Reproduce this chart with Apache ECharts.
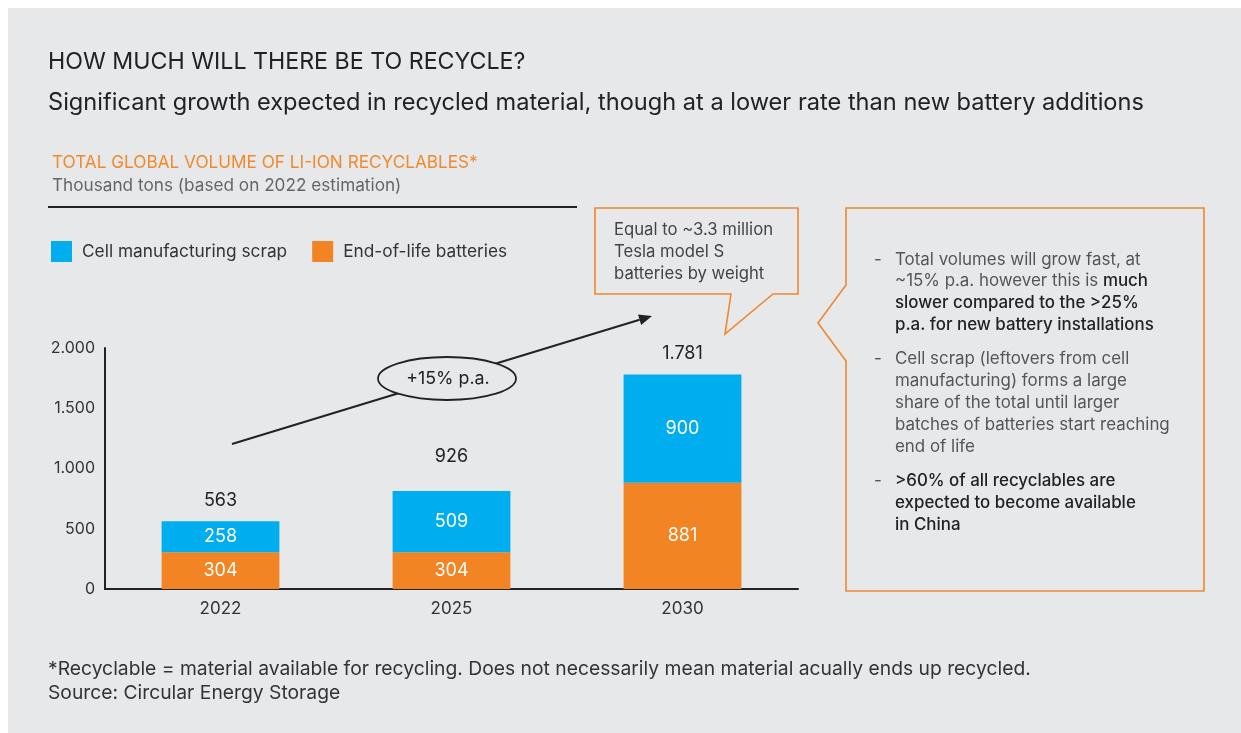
<!DOCTYPE html>
<html>
<head>
<meta charset="utf-8">
<script src="https://cdn.jsdelivr.net/npm/echarts@6/dist/echarts.min.js"></script>
<style>
  html, body { margin: 0; padding: 0; background: #ffffff; }
  #panel { position: absolute; left: 8px; top: 8px; right: 0; bottom: 0; background: #e7e8ea; }
  #chart { position: absolute; left: 0; top: 0; width: 1241px; height: 733px; }
</style>
</head>
<body>
<div id="panel"></div>
<div id="chart"></div>
<script>
// Years on the x axis
const years = ['2022', '2025', '2030'];
// Thousand tons per segment, as printed on each segment
const scrapValues = [258, 509, 900];       // cell manufacturing scrap
const endOfLifeValues = [304, 304, 881];   // end-of-life batteries
// Stated total per year
const totalValues = [563, 926, 1781];
// Y axis ticks
const yTicks = [0, 500, 1000, 1500, 2000];

const seriesNames = ['Cell manufacturing scrap', 'End-of-life batteries'];

const titleText = 'HOW MUCH WILL THERE BE TO RECYCLE?';
const subtitleText = 'Significant growth expected in recycled material, though at a lower rate than new battery additions';
const chartHeading = 'TOTAL GLOBAL VOLUME OF LI-ION RECYCLABLES*';
const unitText = 'Thousand tons (based on 2022 estimation)';
const growthText = '+15% p.a.';
const calloutLines = ['Equal to ~3.3 million', 'Tesla model S', 'batteries by weight'];
// Side notes: each line is a list of [text, strong?] runs
const noteLines = [
  { bullet: true,  runs: [['Total volumes will grow fast, at', false]] },
  { bullet: false, runs: [['~15% p.a. however this is ', false], ['much', true]] },
  { bullet: false, runs: [['slower compared to the >25%', true]] },
  { bullet: false, runs: [['p.a. for new battery installations', true]] },
  { bullet: true,  runs: [['Cell scrap (leftovers from cell', false]] },
  { bullet: false, runs: [['manufacturing) forms a large', false]] },
  { bullet: false, runs: [['share of the total until larger', false]] },
  { bullet: false, runs: [['batches of batteries start reaching', false]] },
  { bullet: false, runs: [['end of life', false]] },
  { bullet: true,  runs: [['>60% of all recyclables are', true]] },
  { bullet: false, runs: [['expected to become available', true]] },
  { bullet: false, runs: [['in China', true]] }
];
const noteLineY = [260, 281, 303, 325, 359, 381, 403, 425, 447, 481, 503, 525];
const footnotes = [
  '*Recyclable = material available for recycling. Does not necessarily mean material acually ends up recycled.',
  'Source: Circular Energy Storage'
];

const FONT = 'Inter, Roboto, "Noto Sans", sans-serif';
const BG = '#e7e8ea';
const BLUE = '#00aeef';
const ORANGE = '#f28423';
const OUTLINE = '#f0862e';
const INK = '#222222';

function fmt(n) {
  return String(n).replace(/\B(?=(\d{3})+(?!\d))/g, '.');
}

function txt(x, y, text, size, color, extra) {
  return {
    type: 'text', x: x, y: y, z: 20,
    style: Object.assign({
      text: text, font: size + 'px ' + FONT, fill: color,
      textVerticalAlign: 'middle', textAlign: 'left'
    }, extra || {})
  };
}

const chart = echarts.init(document.getElementById('chart'), null, { renderer: 'canvas' });

function buildGraphics() {
  const g = [];
  // Header texts
  g.push(txt(48, 62, titleText, 23.2, INK));
  g.push(txt(48, 103, subtitleText, 23.6, INK));
  g.push(txt(52, 163, chartHeading, 17.2, '#f08a2c'));
  g.push(txt(52, 186, unitText, 17.2, '#666666'));
  g.push({ type: 'line', z: 20, shape: { x1: 48, y1: 207, x2: 577, y2: 207 },
           style: { stroke: INK, lineWidth: 2 } });

  // Growth arrow
  const p0 = [232, 444], p1 = [652, 316];
  const dx = p1[0] - p0[0], dy = p1[1] - p0[1];
  const len = Math.hypot(dx, dy), ux = dx / len, uy = dy / len;
  const headL = 13, headW = 5.5;
  const bx = p1[0] - ux * headL, by = p1[1] - uy * headL;
  g.push({ type: 'line', z: 10, shape: { x1: p0[0], y1: p0[1], x2: bx, y2: by },
           style: { stroke: INK, lineWidth: 2 } });
  g.push({ type: 'polygon', z: 10,
           shape: { points: [p1, [bx - uy * headW, by + ux * headW], [bx + uy * headW, by - ux * headW]] },
           style: { fill: INK } });
  g.push({ type: 'ellipse', z: 11, shape: { cx: 447, cy: 378.5, rx: 69, ry: 21.5 },
           style: { fill: BG, stroke: INK, lineWidth: 1.8 } });
  g.push(txt(448, 379, growthText, 17.8, INK, { textAlign: 'center' }));

  // Speech-bubble callout
  g.push({ type: 'polygon', z: 10,
           shape: { points: [[595, 208], [798, 208], [798, 294], [773, 294], [725, 334], [731, 294], [595, 294]] },
           style: { fill: BG, stroke: OUTLINE, lineWidth: 1.6 } });
  calloutLines.forEach(function (s, i) {
    g.push(txt(614, 230 + i * 22, s, 16.7, '#444444'));
  });

  // Side notes box
  g.push({ type: 'polygon', z: 10,
           shape: { points: [[846, 208], [1204, 208], [1204, 591], [846, 591], [846, 361], [818, 323], [846, 285]] },
           style: { fill: BG, stroke: OUTLINE, lineWidth: 1.6 } });
  noteLines.forEach(function (line, i) {
    const y = noteLineY[i];
    if (line.bullet) g.push(txt(874, y, '-', 17, '#555555'));
    const text = line.runs.map(function (r) { return '{' + (r[1] ? 'b' : 'n') + '|' + r[0] + '}'; }).join('');
    g.push({
      type: 'text', x: 895, y: y, z: 20,
      style: {
        text: text, textVerticalAlign: 'middle',
        rich: {
          n: { font: '16.9px ' + FONT, fill: '#555555' },
          b: { font: '500 16.9px ' + FONT, fill: '#222222' }
        }
      }
    });
  });

  // Footnotes
  footnotes.forEach(function (s, i) {
    g.push(txt(48, 669 + i * 24, s, 19.3, '#333333'));
  });
  return g;
}

const option = {
  backgroundColor: 'transparent',
  animation: false,
  textStyle: { fontFamily: FONT },
  legend: {
    data: seriesNames,
    left: 51, top: 241, padding: 0,
    icon: 'rect', itemWidth: 21, itemHeight: 21, itemGap: 25,
    selectedMode: false,
    textStyle: { fontSize: 17.3, color: '#333333', padding: [0, 0, 0, 5] }
  },
  grid: { left: 105, right: 443, top: 348, bottom: 144, containLabel: false },
  xAxis: {
    type: 'category', data: years,
    axisLine: { lineStyle: { color: INK, width: 2 } },
    axisTick: { show: false },
    axisLabel: { color: '#333333', fontSize: 17, margin: 11 }
  },
  yAxis: {
    type: 'value', min: yTicks[0], max: yTicks[yTicks.length - 1], interval: yTicks[1] - yTicks[0],
    axisLine: { show: true, lineStyle: { color: INK, width: 2 } },
    axisTick: { show: false },
    splitLine: { show: false },
    axisLabel: { color: '#333333', fontSize: 16, margin: 10, formatter: fmt }
  },
  series: [
    {
      name: seriesNames[1], type: 'bar', stack: 'total', data: endOfLifeValues,
      barWidth: '51%', itemStyle: { color: ORANGE },
      label: { show: true, position: 'inside', color: '#ffffff', fontSize: 18, formatter: function (p) { return fmt(p.value); } }
    },
    {
      name: seriesNames[0], type: 'bar', stack: 'total', data: scrapValues,
      barWidth: '51%', itemStyle: { color: BLUE },
      label: { show: true, position: 'inside', color: '#ffffff', fontSize: 18, formatter: function (p) { return fmt(p.value); } }
    },
    {
      name: 'Total', type: 'scatter', data: totalValues, symbolSize: 1,
      itemStyle: { color: 'rgba(0,0,0,0)' }, z: 5,
      label: { show: true, position: 'top', distance: 11, color: INK, opacity: 1, fontSize: 18,
               formatter: function (p) { return fmt(p.value); } }
    }
  ],
  graphic: buildGraphics()
};

chart.setOption(option);
</script>
</body>
</html>
